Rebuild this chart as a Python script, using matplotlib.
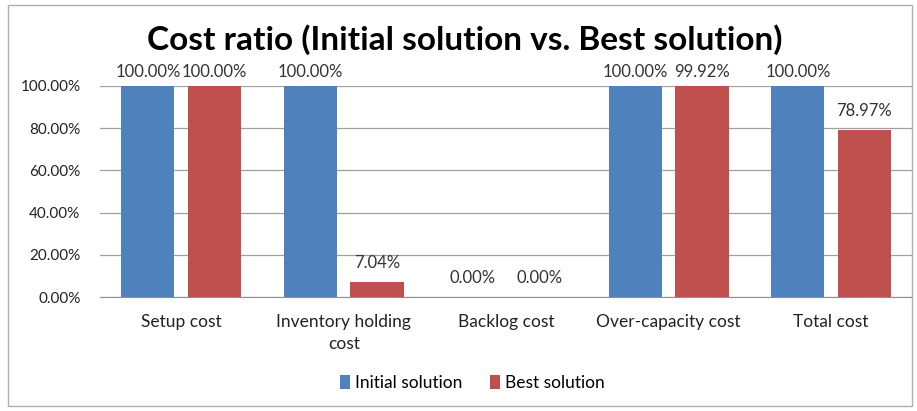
import matplotlib
matplotlib.use('Agg')
import matplotlib.pyplot as plt
import numpy as np
from matplotlib.patches import Rectangle

plt.rcParams['font.family'] = ['Lato', 'DejaVu Sans']

categories = ['Setup cost', 'Inventory holding\ncost', 'Backlog cost',
              'Over-capacity cost', 'Total cost']
initial = [100.00, 100.00, 0.00, 100.00, 100.00]
best = [100.00, 7.04, 0.00, 99.92, 78.97]
series_names = ['Initial solution', 'Best solution']
colors = ['#4F81BD', '#C0504D']

fig = plt.figure(figsize=(9.17, 4.11), dpi=100)
ax = fig.add_axes([0.109, 0.277, 0.886, 0.514])

x = np.arange(len(categories))
w = 0.327
off = 0.205
b1 = ax.bar(x - off, initial, w, color=colors[0], label=series_names[0], zorder=3)
b2 = ax.bar(x + off, best, w, color=colors[1], label=series_names[1], zorder=3)

# value labels, pushed down a little near the top of the plot area
for bars, vals in ((b1, initial), (b2, best)):
    for bar, v in zip(bars, vals):
        ax.text(bar.get_x() + bar.get_width() / 2, min(v + 5.5, 103),
                '%.2f%%' % v, ha='center', va='bottom', fontsize=12,
                color='#333333', clip_on=False)

ax.set_xlim(-0.5, len(categories) - 0.5)
ax.set_ylim(0, 100)
ax.set_yticks(np.arange(0, 101, 20))
ax.set_yticklabels(['%.2f%%' % t for t in np.arange(0, 101, 20)])
ax.set_xticks(x)
ax.set_xticklabels(categories, linespacing=1.5)
ax.yaxis.grid(True, color='#A0A0A0', linewidth=0.9, zorder=0)
ax.tick_params(axis='both', length=0, colors='#222222')
ax.tick_params(axis='x', pad=12, labelsize=12.5)
ax.tick_params(axis='y', pad=14, labelsize=11)
for s in ['top', 'right', 'left']:
    ax.spines[s].set_visible(False)
ax.spines['bottom'].set_color('#909090')

fig.suptitle('Cost ratio (Initial solution vs. Best solution)', fontsize=24,
             fontweight='bold', x=0.507, y=0.94)

fig.legend(handles=[b1, b2], labels=series_names, loc='center',
           bbox_to_anchor=(0.515, 0.068), ncol=2, frameon=False,
           fontsize=12.5, handlelength=0.6, handleheight=0.9,
           handletextpad=0.25, columnspacing=1.6)

# outer chart border
fig.patches.append(Rectangle((0.009, 0.012), 0.986, 0.976,
                             transform=fig.transFigure, fill=False,
                             edgecolor='#B0B0B0', linewidth=1))

fig.savefig('out.png', dpi=100)
